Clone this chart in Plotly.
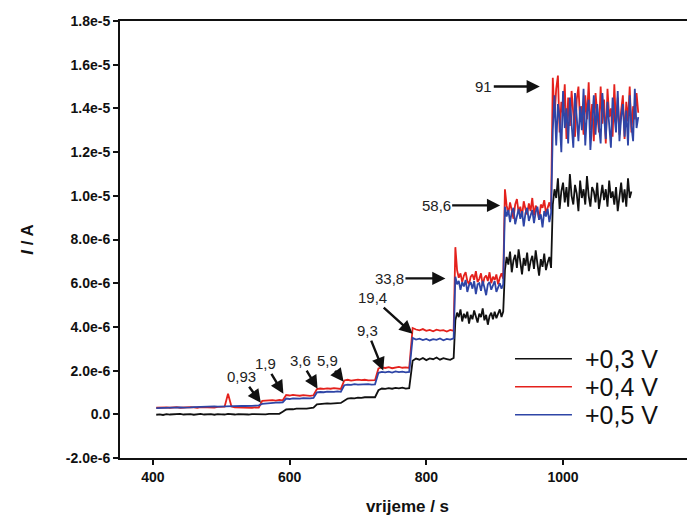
import plotly.graph_objects as go

# sampling grid of the amperometric record (s): 5 s up to 840 s, 2.5 s afterwards
time_s = list(range(405, 841, 5)) + [842.5 + 2.5 * k for k in range(108)]

# current at +0,3 V (in 1e-6 A)
i_03 = [
    -0.02, 0.00, -0.03, 0.01, -0.01, 0.00, -0.02, 0.02, -0.01, 0.00, 0.01, -0.02, 0.00, 0.02, -0.01, 0.00,
    0.01, -0.02, 0.01, 0.00, -0.01, 0.02, 0.00, -0.01, 0.01, 0.00, 0.02, -0.01, 0.01, 0.00, 0.02,
    0.01, 0.00, 0.02, 0.01, 0.03, 0.02, 0.12,
    0.22, 0.24, 0.23, 0.26, 0.25, 0.27, 0.26, 0.28, 0.30,
    0.46, 0.48, 0.47, 0.50, 0.49, 0.51, 0.50, 0.52,
    0.62, 0.72, 0.74, 0.73, 0.76, 0.75, 0.78, 0.77, 0.79, 0.78,
    1.10, 1.18, 1.16, 1.20, 1.17, 1.21, 1.19, 1.22, 1.18, 1.20,
    2.45, 2.55, 2.50, 2.58, 2.48, 2.56, 2.52, 2.60, 2.50, 2.57, 2.53, 2.49, 2.58,
    # 33,8
    4.30, 4.65, 4.45, 4.80, 4.25, 4.60, 4.40, 4.70, 4.15, 4.55,
    4.35, 4.75, 4.50, 4.20, 4.60, 4.45, 4.85, 4.30, 4.55, 4.10,
    4.50, 4.65, 4.35, 4.70, 4.40, 4.60, 4.80, 4.45, 4.70,
    # 58,6
    6.60, 7.20, 6.85, 7.45, 6.50, 7.05, 7.30, 6.70, 7.55, 6.95,
    6.40, 7.15, 6.80, 7.40, 6.55, 7.00, 7.25, 6.65, 7.50, 6.90,
    6.35, 7.10, 6.75, 7.35, 6.60, 6.95, 7.20, 6.70,
    # 91
    9.60, 10.30, 9.90, 10.80, 9.40, 10.20, 10.60, 9.70, 10.40, 9.50,
    11.00, 10.00, 9.60, 10.50, 10.10, 9.30, 10.70, 9.90, 10.30, 9.60,
    10.90, 10.00, 9.50, 10.40, 10.20, 9.70, 10.60, 9.40, 10.10, 10.50,
    9.80, 10.30, 9.50, 10.70, 9.90, 10.20, 9.60, 10.40, 9.30, 10.00,
    10.60, 9.70, 10.30, 9.50, 10.80, 9.90, 10.20, None, None, None, None,
]

# current at +0,4 V (in 1e-6 A)
i_04 = [
    0.30, 0.31, 0.29, 0.32, 0.30, 0.31, 0.33, 0.30, 0.32, 0.31, 0.33, 0.32, 0.30, 0.33, 0.32, 0.34,
    0.33, 0.31, 0.34, 0.33, 0.35, 0.94, 0.36, 0.32, 0.31, 0.30, 0.32, 0.31, 0.30, 0.32, 0.31,
    0.62, 0.64, 0.63, 0.65, 0.63, 0.66, 0.64,
    0.88, 0.86, 0.89, 0.87, 0.85, 0.88, 0.86, 0.84, 0.87,
    1.15, 1.18, 1.16, 1.19, 1.17, 1.20, 1.18, 1.16,
    1.55, 1.58, 1.54, 1.57, 1.59, 1.56, 1.58, 1.55, 1.57, 1.56,
    2.10, 2.15, 2.12, 2.16, 2.11, 2.14, 2.17, 2.13, 2.15, 2.12,
    3.95, 3.88, 3.84, 3.90, 3.82, 3.86, 3.80, 3.87, 3.83, 3.85, 3.79, 3.86, 3.82,
    # 33,8
    7.65, 6.60, 6.25, 6.45, 6.05, 6.35, 6.50, 6.10, 5.95, 6.30,
    6.40, 6.15, 6.55, 6.05, 6.20, 6.45, 5.90, 6.25, 6.35, 6.10,
    6.50, 6.00, 6.30, 6.15, 6.40, 5.95, 6.25, 6.45, 6.20,
    # 58,6
    10.30, 9.55, 9.20, 9.70, 9.35, 8.95, 9.60, 9.85, 9.25, 9.50,
    9.05, 9.75, 9.40, 9.15, 9.65, 9.30, 9.90, 9.10, 9.55, 9.35,
    8.90, 9.60, 9.45, 9.80, 9.20, 9.50, 9.70, 9.40,
    # 91
    15.40, 13.60, 14.90, 15.50, 12.90, 14.30, 13.70, 15.10, 12.60, 14.50,
    13.20, 14.80, 13.90, 12.70, 14.40, 15.00, 13.40, 14.10, 12.80, 14.60,
    13.50, 15.20, 13.00, 14.20, 12.50, 14.70, 13.80, 12.90, 15.00, 13.30,
    14.40, 12.40, 14.90, 13.60, 14.00, 12.70, 15.10, 13.20, 14.50, 12.80,
    13.90, 14.60, 12.60, 14.30, 13.40, 15.00, 12.90, 14.10, 13.50, 14.70, 13.80,
]

# current at +0,5 V (in 1e-6 A)
i_05 = [
    0.28, 0.29, 0.30, 0.29, 0.31, 0.30, 0.31, 0.32, 0.31, 0.33, 0.32, 0.33, 0.34, 0.33, 0.35, 0.34,
    0.35, 0.36, 0.35, 0.36, 0.37, 0.36, 0.38, 0.37, 0.38, 0.39, 0.38, 0.40, 0.39, 0.40, 0.41,
    0.48, 0.50, 0.52, 0.51, 0.53, 0.54, 0.55,
    0.72, 0.70, 0.73, 0.71, 0.72, 0.74, 0.72, 0.73, 0.75,
    1.00, 1.02, 1.01, 1.04, 1.02, 1.03, 1.05, 1.03,
    1.33, 1.36, 1.35, 1.38, 1.36, 1.37, 1.35, 1.38, 1.36, 1.37,
    1.90, 1.94, 1.92, 1.95, 1.91, 1.96, 1.93, 1.95, 1.92, 1.94,
    3.50, 3.42, 3.46, 3.40, 3.45, 3.38, 3.44, 3.41, 3.47, 3.39, 3.45, 3.42, 3.48,
    # 33,8
    6.30, 5.95, 6.10, 5.70, 6.05, 5.85, 6.15, 5.60, 5.90, 6.05,
    5.75, 6.10, 5.50, 5.95, 6.00, 5.65, 6.10, 5.80, 5.45, 5.95,
    6.05, 5.70, 5.90, 6.10, 5.60, 5.85, 6.00, 5.75, 5.95,
    # 58,6
    9.50, 9.05, 9.35, 8.80, 9.25, 9.45, 8.70, 9.15, 9.40, 8.95,
    9.30, 8.60, 9.20, 9.45, 8.85, 9.10, 9.35, 8.75, 9.25, 9.50,
    8.90, 9.15, 8.55, 9.30, 9.05, 9.40, 8.80, 9.20,
    # 91
    13.00, 14.60, 12.30, 14.20, 13.50, 12.00, 14.80, 13.10, 14.00, 12.40,
    14.50, 13.30, 12.20, 14.70, 13.60, 12.50, 14.10, 13.00, 14.90, 12.30,
    13.80, 14.40, 12.10, 13.50, 14.60, 12.80, 14.20, 13.20, 12.40, 14.70,
    13.40, 12.60, 14.30, 13.00, 12.20, 14.50, 13.70, 12.90, 14.80, 12.50,
    13.60, 14.20, 12.70, 13.90, 12.30, 14.60, 13.20, 12.50, 14.90, 13.10, 13.60,
]

# concentration labels and the point each arrow marks (s, 1e-6 A)
add_labels = ["0,93", "1,9", "3,6", "5,9", "9,3", "19,4", "33,8", "58,6", "91"]
add_time = [558, 591, 641, 679, 737, 780, 828, 908, 966]
add_current = [0.53, 0.94, 1.17, 1.49, 2.0, 3.69, 6.22, 9.56, 15.0]
# arrow tail offsets (px)
add_ax = [-19, -18, -17, -16, -16, -40, -56, -64, -56]
add_ay = [-26, -30, -28, -21, -40, -36, 0, 0, 0]

series_names = ["+0,3 V", "+0,4 V", "+0,5 V"]
series_colors = ["#111111", "#e4211c", "#2e45a6"]

y_ticks = [-2e-6, 0, 2e-6, 4e-6, 6e-6, 8e-6, 1e-5, 1.2e-5, 1.4e-5, 1.6e-5, 1.8e-5]
y_ticktext = ["-2.0e-6", "0.0", "2.0e-6", "4.0e-6", "6.0e-6", "8.0e-6",
              "1.0e-5", "1.2e-5", "1.4e-5", "1.6e-5", "1.8e-5"]
x_ticks = [400, 600, 800, 1000]

assert len(i_03) == len(i_04) == len(i_05) == len(time_s)


def scale(vals):
    return [None if v is None else v * 1e-6 for v in vals]


fig = go.Figure()
for name, vals, color in zip(series_names, [i_03, i_04, i_05], series_colors):
    fig.add_trace(go.Scatter(
        x=time_s, y=scale(vals), mode="lines", name=name,
        line=dict(color=color, width=1.8), showlegend=False,
    ))

for lab, t, c, ax, ay in zip(add_labels, add_time, add_current, add_ax, add_ay):
    fig.add_annotation(
        x=t, y=c * 1e-6, text=lab, ax=ax, ay=ay,
        showarrow=True, arrowhead=2, arrowsize=1.1, arrowwidth=2.4,
        arrowcolor="#111111", standoff=0,
        font=dict(size=15, color="#222222"),
    )

# legend drawn by hand so the sample lines are as long as in the original
for k, (name, color) in enumerate(zip(series_names, series_colors)):
    yk = 0.227 - k * 0.064
    fig.add_shape(type="line", xref="paper", yref="paper",
                  x0=0.687, x1=0.786, y0=yk, y1=yk,
                  line=dict(color=color, width=1.6))
    fig.add_annotation(xref="paper", yref="paper", x=0.805, y=yk,
                       text=name, showarrow=False, xanchor="left", yanchor="middle",
                       font=dict(size=25, color="#111111"))

fig.update_layout(
    width=687, height=516,
    margin=dict(l=112, r=0, t=13, b=66),
    plot_bgcolor="white", paper_bgcolor="white",
    font=dict(family="Liberation Sans, Arial, sans-serif", color="#111111"),
    xaxis=dict(
        range=[352, 1193], tickvals=x_ticks,
        ticktext=["<b>%d</b>" % v for v in x_ticks],
        showgrid=False, zeroline=False,
        showline=True, linecolor="#111111", linewidth=2, mirror=True,
        ticks="outside", ticklen=5, tickwidth=1.5, tickcolor="#111111",
        tickfont=dict(size=14),
        title=dict(text="<b>vrijeme / s</b>", font=dict(size=17), standoff=16),
    ),
    yaxis=dict(
        range=[-2e-6, 1.8e-5], tickvals=y_ticks,
        ticktext=["<b>%s</b>" % s for s in y_ticktext],
        showgrid=False, zeroline=False,
        showline=True, linecolor="#111111", linewidth=2,
        ticks="outside", ticklen=5, tickwidth=1.5, tickcolor="#111111",
        tickfont=dict(size=14),
        title=dict(text="<b><i>I</i> / A</b>", font=dict(size=17), standoff=28),
    ),
)

fig.write_html("out.html")
